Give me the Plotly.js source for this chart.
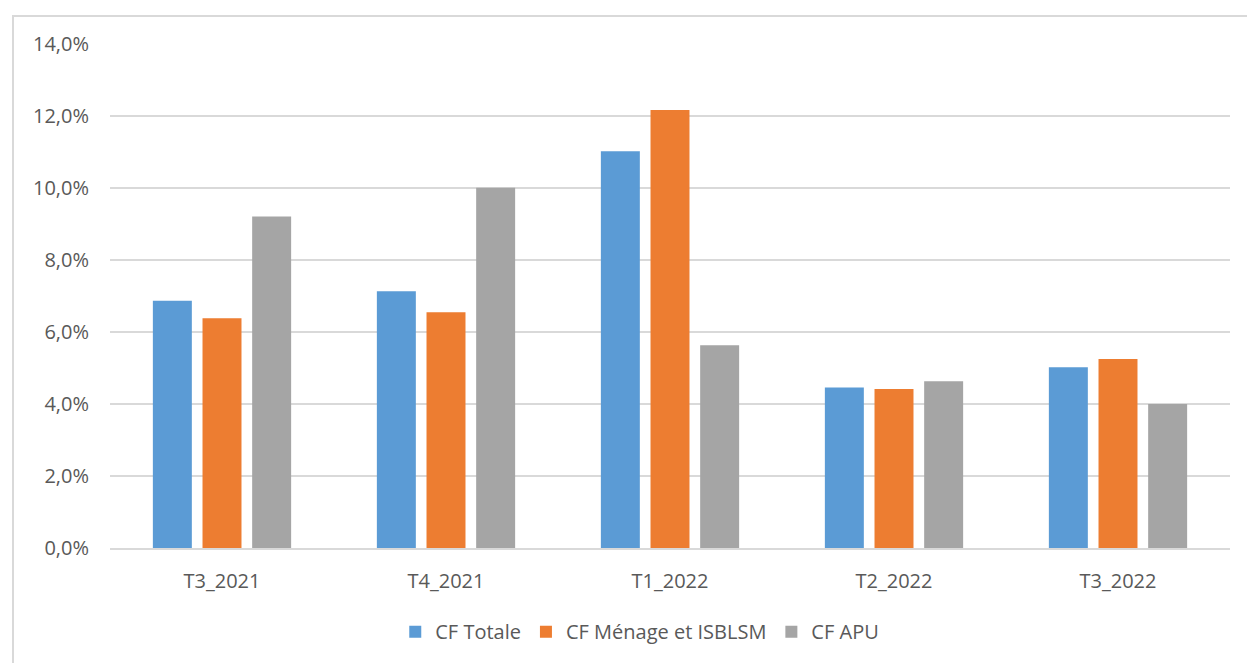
<!DOCTYPE html>
<html>
<head>
<meta charset="utf-8">
<script src="https://cdn.plot.ly/plotly-3.0.1.min.js"></script>
<style>
  html, body { margin: 0; padding: 0; background: #ffffff; overflow: hidden; }
  #chart { position: absolute; left: 0; top: 0; width: 1247px; height: 663px; }
  #frame { position: absolute; left: 12px; top: 15px; width: 1260px; height: 700px;
           border: 2px solid #d9d9d9; pointer-events: none; box-sizing: border-box; }
</style>
</head>
<body>
<div id="chart"></div>
<div id="frame"></div>
<script>
const categories = ["T3_2021", "T4_2021", "T1_2022", "T2_2022", "T3_2022"];
const seriesNames = ["CF Totale", "CF Ménage et ISBLSM", "CF APU"];
const cfTotale = [6.87, 7.13, 11.02, 4.46, 5.02];
const cfMenage = [6.38, 6.55, 12.17, 4.42, 5.25];
const cfAPU = [9.21, 10.01, 5.63, 4.63, 4.00];
const colors = ["#5B9BD5", "#ED7D31", "#A5A5A5"];
const yTicks = [0, 2, 4, 6, 8, 10, 12, 14];
const yTickText = ["0,0%", "2,0%", "4,0%", "6,0%", "8,0%", "10,0%", "12,0%", "14,0%"];

const seriesValues = [cfTotale, cfMenage, cfAPU];
const traces = seriesValues.map((vals, i) => ({
  type: "bar",
  name: seriesNames[i],
  x: categories,
  y: vals,
  marker: { color: colors[i], line: { width: 0 } },
  hoverinfo: "x+y+name"
}));

const font = { family: "Open Sans, Liberation Sans, sans-serif", size: 20, color: "#595959" };

const layout = {
  width: 1247,
  height: 663,
  margin: { l: 110, r: 17, t: 44, b: 113 },
  paper_bgcolor: "rgba(0,0,0,0)",
  plot_bgcolor: "#ffffff",
  separators: ", ",
  font: font,
  barmode: "group",
  bargap: 0.335,
  bargroupgap: 0.215,
  showlegend: true,
  legend: {
    orientation: "h",
    x: 0.473, xanchor: "center",
    y: -0.166, yanchor: "middle",
    font: font,
    itemwidth: 30,
    traceorder: "normal"
  },
  xaxis: {
    type: "category",
    showgrid: false,
    showline: true,
    linecolor: "#d9d9d9",
    linewidth: 1.5,
    ticks: "",
    ticklabelstandoff: 14,
    tickfont: font,
    zeroline: false
  },
  yaxis: {
    range: [0, 14],
    tickmode: "array",
    tickvals: yTicks,
    ticktext: yTickText,
    showgrid: true,
    gridcolor: "#d9d9d9",
    gridwidth: 1.5,
    zeroline: false,
    showline: false,
    ticks: "",
    ticklabelstandoff: 20,
    tickfont: font,
    fixedrange: true
  }
};

Plotly.newPlot("chart", traces, layout, { displayModeBar: false, staticPlot: true });
</script>
</body>
</html>
